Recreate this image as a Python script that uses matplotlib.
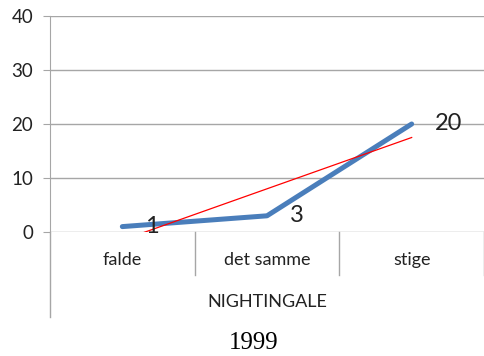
import numpy as np
import matplotlib.pyplot as plt
from matplotlib.transforms import blended_transform_factory

categories = ['falde', 'det samme', 'stige']
values = [1, 3, 20]
group_label = 'NIGHTINGALE'
title = '1999'
y_ticks = [0, 10, 20, 30, 40]

grey = '#a6a6a6'
plt.rcParams['font.family'] = ['Lato', 'DejaVu Sans']

fig = plt.figure(figsize=(4.84, 3.56), dpi=100)
ax = fig.add_axes([50 / 484, 124 / 356, 434 / 484, 216 / 356])

x = np.arange(len(categories))
ax.plot(x, values, color='#4a7ebb', linewidth=3.6, solid_capstyle='round', zorder=3)

# linear trendline like Excel
slope, intercept = np.polyfit(x + 1, values, 1)
ax.plot(x, slope * (x + 1) + intercept, color='red', linewidth=0.9, zorder=4)

for xi, v in zip(x, values):
    ax.annotate(str(v), (xi, v), xytext=(23, 0), textcoords='offset pixels',
                ha='left', va='center', fontsize=17, color='#222222', zorder=5)

ax.set_xlim(-0.5, len(categories) - 0.5)
ax.set_ylim(0, 40)
ax.set_yticks(y_ticks)
ax.set_xticks([])
ax.tick_params(axis='y', length=5, color=grey, labelsize=13.5, pad=7,
               labelcolor='#222222')
ax.grid(axis='y', color=grey, linewidth=1)
ax.set_axisbelow(True)
for s in ['top', 'right', 'bottom']:
    ax.spines[s].set_visible(False)
ax.spines['left'].set_color(grey)

# multi-level category axis
tr = blended_transform_factory(ax.transData, ax.transAxes)
ax.plot([-0.5, -0.5], [0, -0.394], transform=tr, color=grey, lw=1, clip_on=False)
for b in [0.5, 1.5, 2.5]:
    ax.plot([b, b], [0, -0.199], transform=tr, color=grey, lw=1, clip_on=False)
for xi, c in zip(x, categories):
    ax.text(xi, -0.13, c, transform=tr, ha='center', va='center', fontsize=13,
            color='#222222')
ax.text(1, -0.324, group_label, transform=tr, ha='center', va='center',
        fontsize=13, color='#222222')

fig.text(254 / 484, 13 / 356, title, ha='center', va='center', fontsize=18,
         family='Liberation Serif')

fig.savefig('out.png', dpi=100)
